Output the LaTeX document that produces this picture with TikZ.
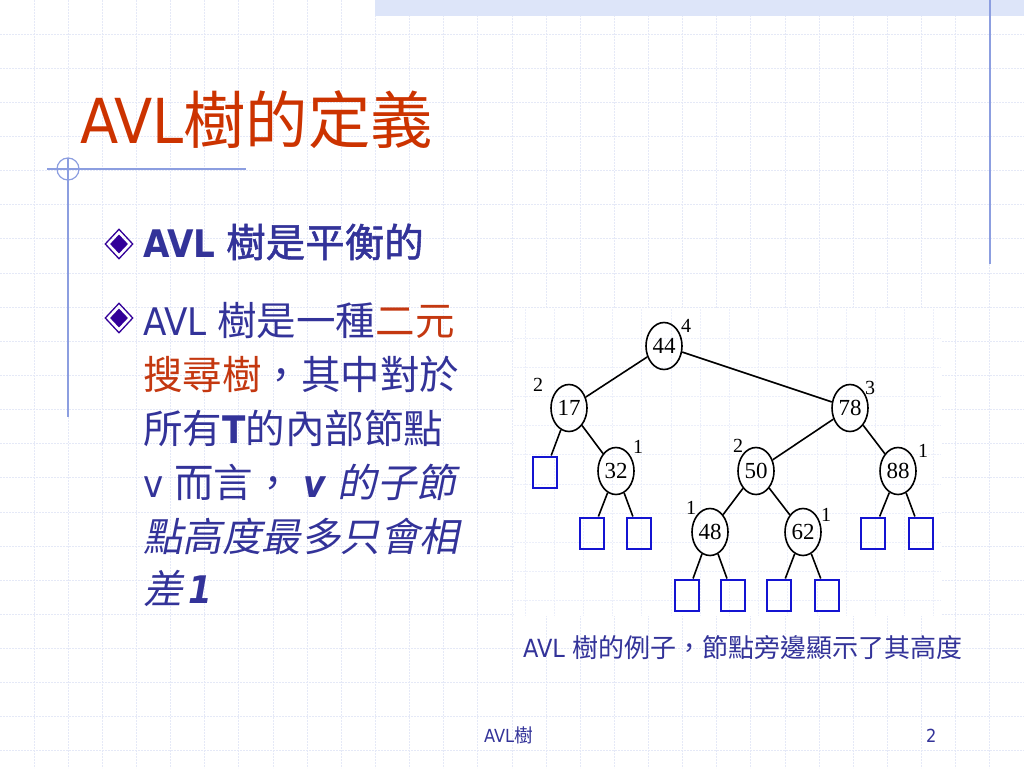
\documentclass[tikz,border=0pt]{standalone}
\usepackage{fontspec}
\setmainfont{DejaVu Sans Condensed}[BoldFont={DejaVu Sans Condensed Bold},ItalicFont={DejaVu Sans Condensed Oblique},BoldItalicFont={DejaVu Sans Condensed Bold Oblique}]
\newfontfamily\cjk{Noto Sans CJK TC}[Scale=1.04]
\newfontfamily\cjkb{Noto Sans CJK TC}[Scale=1.04,FakeBold=1.3]
\newfontfamily\cjki{Noto Sans CJK TC}[Scale=1.04,FakeSlant=0.2]
\newfontfamily\tms{Liberation Serif}
\usetikzlibrary{shapes.geometric}
\definecolor{ttl}{RGB}{204,51,0}
\definecolor{txt}{RGB}{51,51,153}
\definecolor{redtxt}{RGB}{196,56,16}
\definecolor{gridc}{RGB}{229,233,247}
\definecolor{gridi}{RGB}{236,239,250}
\definecolor{deco}{RGB}{140,158,224}
\definecolor{band}{RGB}{221,229,249}
\definecolor{bul}{RGB}{51,0,153}
\definecolor{leafblue}{RGB}{20,20,210}
\tikzset{
  gridl/.style={draw=gridc,line width=1pt,dash pattern=on 2pt off 1pt},
  gridin/.style={draw=gridi,line width=0.8pt,dash pattern=on 2pt off 1pt},
  decol/.style={draw=deco,line width=1.2pt},
  txtline/.style={anchor=base west,inner sep=0,text=txt,font=\fontsize{38}{38}\selectfont},
  bouter/.style={diamond,draw=bul,line width=1.3pt,minimum width=28pt,minimum height=30pt,inner sep=0},
  binner/.style={diamond,fill=bul,minimum width=18pt,minimum height=19pt,inner sep=0},
  tn/.style={ellipse,draw,line width=1.6pt,minimum width=36pt,minimum height=47pt,inner sep=0,font=\tms\fontsize{23}{23}\selectfont},
  lf/.style={rectangle,draw=leafblue,line width=2pt,minimum width=24pt,minimum height=31pt,inner sep=0},
  hl/.style={inner sep=0,font=\tms\fontsize{20}{20}\selectfont},
  ed/.style={line width=1.6pt}
}
\begin{document}
\begin{tikzpicture}[x=1pt,y=-1pt]
\useasboundingbox (0,0) rectangle (1024,768);
\fill[white] (0,0) rectangle (1024,768);
% grid
\foreach \i in {1,...,29} \draw[gridl] (\i*34.133,0) -- (\i*34.133,768);
\foreach \j in {1,...,22} \draw[gridl] (0,\j*34.133) -- (1024,\j*34.133);
% top band
\fill[band] (375,0) rectangle (1024,16);
% decorations
\draw[decol] (990,0) -- (990,264);
\draw[decol] (47,169) -- (246,169);
\draw[decol] (68,158) -- (68,417);
\draw[decol] (68,169) circle[radius=11];
% tree picture background
\fill[white] (514,309) rectangle (941,616);
\foreach \k in {0,...,14} \draw[gridin] (525+\k*29.2,309) -- (525+\k*29.2,616);
\foreach \k in {0,...,9} \draw[gridin] (514,338+\k*29.2) -- (941,338+\k*29.2);
% title
\node[anchor=base west,inner sep=0,text=ttl,font=\fontsize{62}{62}\selectfont] (title) at (80,143) {AVL{\cjk\fontsize{60}{60}\selectfont 樹的定義}};
% bullets
\node[bouter] (d1o) at (119,244) {};
\node[binner] (d1i) at (119,244) {};
\node[bouter] (d2o) at (119,318) {};
\node[binner] (d2i) at (119,318) {};
\node[txtline] (b1) at (143,257) {\textbf{AVL} {\cjkb 樹是平衡的}};
\node[txtline] (l1) at (143,335) {AVL {\cjk 樹是一種}{\cjk\color{redtxt}二元}};
\node[txtline] (l2) at (143,389) {{\cjk\color{redtxt}搜尋樹}{\cjk ，其中對於}};
\node[txtline] (l3) at (143,443) {{\cjk 所有}\textbf{T}{\cjk 的內部節點}};
\node[txtline] (l4) at (143,497) {v {\cjk 而言，} \textbf{\textit{v}} {\cjki 的子節}};
\node[txtline] (l5) at (143,551) {{\cjki 點高度最多只會相}};
\node[txtline] (l6) at (143,603) {{\cjki 差}\hspace{6pt}\textbf{\textit{1}}};
% tree
\node[tn] (n44) at (664,346) {44};
\node[tn] (n17) at (569,408) {17};
\node[tn] (n78) at (850,408) {78};
\node[tn] (n32) at (616,471) {32};
\node[tn] (n50) at (756,471) {50};
\node[tn] (n88) at (898,471) {88};
\node[tn] (n48) at (710,532) {48};
\node[tn] (n62) at (803,532) {62};
\node[lf] (q1) at (545,472) {};
\node[lf] (q2) at (592,533) {};
\node[lf] (q3) at (639,533) {};
\node[lf] (q4) at (687,595) {};
\node[lf] (q5) at (733,595) {};
\node[lf] (q6) at (779,595) {};
\node[lf] (q7) at (827,595) {};
\node[lf] (q8) at (873,533) {};
\node[lf] (q9) at (921,533) {};
\draw[ed] (n44) -- (n17);
\draw[ed] (n44) -- (n78);
\draw[ed] (n17) -- (q1);
\draw[ed] (n17) -- (n32);
\draw[ed] (n32) -- (q2);
\draw[ed] (n32) -- (q3);
\draw[ed] (n78) -- (n50);
\draw[ed] (n78) -- (n88);
\draw[ed] (n50) -- (n48);
\draw[ed] (n50) -- (n62);
\draw[ed] (n48) -- (q4);
\draw[ed] (n48) -- (q5);
\draw[ed] (n62) -- (q6);
\draw[ed] (n62) -- (q7);
\draw[ed] (n88) -- (q8);
\draw[ed] (n88) -- (q9);
\node[hl] (h44) at (686,326) {4};
\node[hl] (h17) at (538,385) {2};
\node[hl] (h78) at (870,388) {3};
\node[hl] (h32) at (638,447) {1};
\node[hl] (h50) at (738,446) {2};
\node[hl] (h88) at (923,451) {1};
\node[hl] (h48) at (691,508) {1};
\node[hl] (h62) at (826,515) {1};
% caption and footer
\node[anchor=base west,inner sep=0,text=txt,font=\fontsize{25}{25}\selectfont] (cap) at (523,657) {AVL {\cjk 樹的例子，節點旁邊顯示了其高度}};
\node[anchor=base west,inner sep=0,text=txt,font=\fontsize{18}{18}\selectfont] (foot) at (484,742) {AVL{\cjk 樹}};
\node[anchor=base west,inner sep=0,text=txt,font=\fontsize{18}{18}\selectfont] (pg) at (926,742) {2};
\end{tikzpicture}
\end{document}
